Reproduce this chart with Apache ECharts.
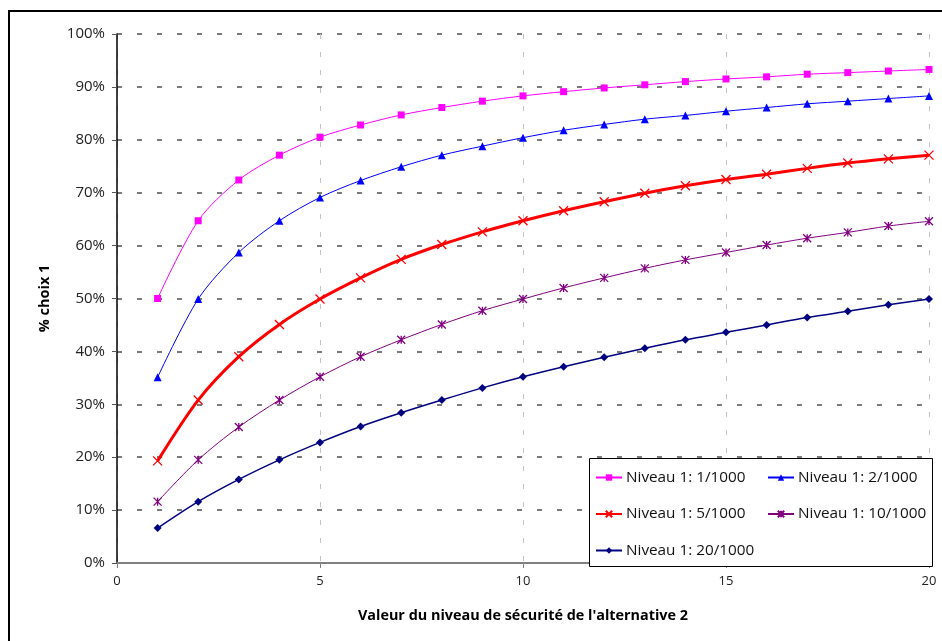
<!DOCTYPE html>
<html>
<head>
<meta charset="utf-8">
<script src="https://cdn.jsdelivr.net/npm/echarts@6/dist/echarts.min.js"></script>
<style>
  html, body { margin: 0; padding: 0; background: #fff; }
  #chart { width: 942px; height: 641px; }
</style>
</head>
<body>
<div id="chart"></div>
<script>
// Security level of alternative 2 (x axis)
var securityLevels = [1, 2, 3, 4, 5, 6, 7, 8, 9, 10, 11, 12, 13, 14, 15, 16, 17, 18, 19, 20];

// Share choosing alternative 1 (%), one array per level of alternative 1
var niveau1_1 = [50.0, 64.7, 72.4, 77.1, 80.5, 82.8, 84.7, 86.1, 87.3, 88.3, 89.1, 89.8, 90.4, 91.0, 91.5, 91.9, 92.4, 92.7, 93.0, 93.3];
var niveau1_2 = [35.1, 49.9, 58.7, 64.7, 69.1, 72.3, 74.9, 77.1, 78.8, 80.4, 81.8, 82.9, 83.9, 84.6, 85.4, 86.1, 86.8, 87.3, 87.8, 88.3];
var niveau1_5 = [19.3, 30.8, 39.0, 45.1, 49.9, 53.9, 57.4, 60.2, 62.6, 64.7, 66.6, 68.3, 69.9, 71.3, 72.5, 73.5, 74.6, 75.6, 76.4, 77.1];
var niveau1_10 = [11.6, 19.5, 25.7, 30.8, 35.2, 39.0, 42.2, 45.1, 47.7, 49.9, 52.0, 53.9, 55.7, 57.3, 58.7, 60.1, 61.4, 62.5, 63.7, 64.6];
var niveau1_20 = [6.6, 11.6, 15.8, 19.5, 22.8, 25.8, 28.4, 30.8, 33.1, 35.2, 37.1, 38.9, 40.6, 42.2, 43.6, 45.0, 46.4, 47.6, 48.8, 49.9];

var seriesNames = ['Niveau 1: 1/1000', 'Niveau 1: 2/1000', 'Niveau 1: 5/1000', 'Niveau 1: 10/1000', 'Niveau 1: 20/1000'];

var xTicks = [0, 5, 10, 15, 20];
var yTicks = [0, 10, 20, 30, 40, 50, 60, 70, 80, 90, 100];

function pairs(values) {
  return securityLevels.map(function (x, i) { return [x, values[i]]; });
}

var FONT = '"Open Sans", sans-serif';
var SYM_X = 'path://M0,0L10,10M10,0L0,10';
var SYM_STAR = 'path://M0,0L10,10M10,0L0,10M5,0L5,10';

function lineSeries(name, values, color, width, symbol, size, strokeSymbol) {
  return {
    name: name,
    type: 'line',
    data: pairs(values),
    smooth: 0.3,
    symbol: symbol,
    symbolSize: size,
    symbolKeepAspect: true,
    showAllSymbol: true,
    lineStyle: { color: color, width: width },
    itemStyle: strokeSymbol
      ? { color: color, borderColor: color, borderWidth: 1.3 }
      : { color: color, borderWidth: 0 },
    emphasis: { disabled: true },
    animation: false
  };
}

function legendBlock(names, left) {
  return {
    data: names,
    orient: 'vertical',
    left: left,
    top: 470,
    itemWidth: 26,
    itemHeight: 8,
    itemGap: 21.5,
    padding: 0,
    textStyle: { fontFamily: FONT, fontSize: 15.3, color: '#111', lineHeight: 14, padding: [0, 0, 0, -1] },
    selectedMode: false,
    z: 10
  };
}

var chart = echarts.init(document.getElementById('chart'), null, { renderer: 'canvas' });

chart.setOption({
  backgroundColor: '#fff',
  animation: false,
  grid: { left: 117, right: 13, top: 34, bottom: 78 },
  xAxis: {
    type: 'value',
    min: xTicks[0],
    max: xTicks[xTicks.length - 1],
    interval: 5,
    name: "Valeur du niveau de sécurité de l'alternative 2",
    nameLocation: 'middle',
    nameGap: 46,
    nameTextStyle: { fontFamily: FONT, fontWeight: 'bold', fontSize: 14.4, color: '#000' },
    axisLine: { show: true, onZero: false, lineStyle: { color: '#808080', width: 2 } },
    axisTick: { show: true, length: 5, lineStyle: { color: '#808080', width: 1 } },
    axisLabel: { fontFamily: FONT, fontSize: 13, color: '#222', margin: 12 },
    splitLine: { show: true, lineStyle: { color: '#c4c4c4', width: 1, type: [5, 13] } }
  },
  yAxis: {
    type: 'value',
    min: yTicks[0],
    max: yTicks[yTicks.length - 1],
    interval: 10,
    name: '% choix 1',
    nameLocation: 'middle',
    nameGap: 65,
    nameRotate: 90,
    nameTextStyle: { fontFamily: FONT, fontWeight: 'bold', fontSize: 14.5, color: '#000' },
    axisLine: { show: true, lineStyle: { color: '#000', width: 1.5 } },
    axisTick: { show: true, length: 5, lineStyle: { color: '#555', width: 1 } },
    axisLabel: { fontFamily: FONT, fontSize: 15, color: '#222', margin: 12, formatter: '{value}%' },
    splitLine: { show: true, lineStyle: { color: '#7a7a7a', width: 2, type: [5, 15] } }
  },
  legend: [
    legendBlock([seriesNames[0], seriesNames[2], seriesNames[4]], 595),
    legendBlock([seriesNames[1], seriesNames[3]], 767)
  ],
  graphic: [
    {
      type: 'rect',
      z: 8,
      shape: { x: 589.5, y: 458.5, width: 343, height: 108 },
      style: { fill: '#fff', stroke: '#000', lineWidth: 1 }
    },
    {
      type: 'rect',
      z: 9,
      shape: { x: 9, y: 11, width: 1000, height: 1000 },
      style: { fill: 'none', stroke: '#000', lineWidth: 2 },
      silent: true
    }
  ],
  series: [
    lineSeries(seriesNames[0], niveau1_1, '#ff00ff', 1, 'rect', 7, false),
    lineSeries(seriesNames[1], niveau1_2, '#0000ff', 1, 'triangle', 8, false),
    lineSeries(seriesNames[2], niveau1_5, '#ff0000', 3, SYM_X, 9, true),
    lineSeries(seriesNames[3], niveau1_10, '#800080', 1, SYM_STAR, 8, true),
    lineSeries(seriesNames[4], niveau1_20, '#000080', 1.5, 'diamond', 8, false)
  ]
});
</script>
</body>
</html>
